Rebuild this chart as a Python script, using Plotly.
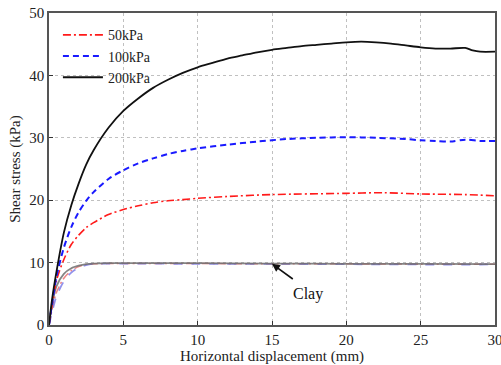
import plotly.graph_objects as go

# Displacement (mm) and shear stress (kPa) for the three normal stresses
x_200 = [0, 0.2, 0.5, 1, 1.5, 2, 2.5, 3, 4, 5, 6, 7, 8, 9, 10, 11, 12, 13, 14, 15, 16, 17, 18, 19, 20, 21, 22, 23, 24, 25, 26, 27, 28, 28.5, 29, 30]
y_200 = [0, 4.0, 8.5, 14.8, 19.2, 22.7, 25.7, 28.0, 31.6, 34.3, 36.3, 38.0, 39.3, 40.4, 41.3, 42.0, 42.7, 43.2, 43.7, 44.1, 44.4, 44.7, 44.9, 45.1, 45.3, 45.4, 45.3, 45.1, 44.8, 44.5, 44.3, 44.3, 44.4, 44.0, 43.8, 43.8]

x_100 = [0, 0.5, 1, 1.5, 2, 2.5, 3, 4, 5, 6, 7, 8, 9, 10, 12, 14, 16, 18, 20, 22, 24, 25, 26, 27, 28, 29, 30]
y_100 = [0, 7.7, 12.4, 15.7, 18.1, 19.9, 21.3, 23.4, 24.8, 25.9, 26.7, 27.4, 27.9, 28.3, 28.9, 29.4, 29.8, 30.0, 30.1, 30.0, 29.8, 29.6, 29.5, 29.4, 29.7, 29.5, 29.5]

x_50 = [0, 0.5, 1, 1.5, 2, 2.5, 3, 4, 5, 6, 7, 8, 9, 10, 12, 15, 20, 22.5, 25, 28, 30]
y_50 = [0, 7.1, 10.5, 12.9, 14.4, 15.6, 16.4, 17.7, 18.5, 19.1, 19.6, 19.9, 20.1, 20.3, 20.6, 20.9, 21.1, 21.2, 21.0, 20.9, 20.7]

# Clay reference curves
x_clay = [0, 0.25, 0.5, 1, 1.5, 2, 2.5, 3, 4, 5, 10, 15, 20, 25, 30]
y_clay_200 = [0, 3.8, 6.2, 8.2, 9.1, 9.5, 9.75, 9.85, 9.9, 9.9, 9.9, 9.85, 9.8, 9.8, 9.75]
y_clay_100 = [0, 2.5, 4.6, 7.0, 8.4, 9.2, 9.6, 9.8, 9.85, 9.85, 9.8, 9.8, 9.75, 9.7, 9.7]
y_clay_50 = [0, 3.0, 5.2, 7.5, 8.7, 9.35, 9.7, 9.8, 9.85, 9.85, 9.85, 9.8, 9.8, 9.75, 9.75]

labels = ["50kPa", "100kPa", "200kPa"]
x_ticks = [0, 5, 10, 15, 20, 25, 30]
y_ticks = [0, 10, 20, 30, 40, 50]

FONT = "Liberation Serif"
DASHDOT = "8px,3px,2px,3px"
SMOOTH = dict(shape="spline", smoothing=0.8)

fig = go.Figure()

# Clay curves (no legend entries)
fig.add_trace(go.Scatter(x=x_clay, y=y_clay_50, mode="lines", showlegend=False,
                         line=dict(color="rgba(230,80,80,0.7)", width=1.5, dash=DASHDOT, **SMOOTH)))
fig.add_trace(go.Scatter(x=x_clay, y=y_clay_100, mode="lines", showlegend=False,
                         line=dict(color="rgba(110,110,230,0.75)", width=1.8, dash="dash", **SMOOTH)))
fig.add_trace(go.Scatter(x=x_clay, y=y_clay_200, mode="lines", showlegend=False,
                         line=dict(color="rgba(110,110,110,0.85)", width=1.8, **SMOOTH)))

fig.add_trace(go.Scatter(x=x_50, y=y_50, mode="lines", name=labels[0],
                         line=dict(color="#ff1a1a", width=1.6, dash=DASHDOT, **SMOOTH)))
fig.add_trace(go.Scatter(x=x_100, y=y_100, mode="lines", name=labels[1],
                         line=dict(color="#1a1aff", width=2, dash="6px,4px", **SMOOTH)))
fig.add_trace(go.Scatter(x=x_200, y=y_200, mode="lines", name=labels[2],
                         line=dict(color="#111111", width=1.8, **SMOOTH)))

fig.add_annotation(x=15.0, y=9.8, ax=16.5, ay=7.2, axref="x", ayref="y",
                   xref="x", yref="y", showarrow=True, arrowhead=2, arrowsize=1,
                   arrowwidth=1.6, arrowcolor="#111111", text="")
fig.add_annotation(x=17.4, y=5.0, xref="x", yref="y", text="Clay", showarrow=False,
                   font=dict(family=FONT, size=16, color="#111111"))

axis_common = dict(showline=True, linecolor="#555555", linewidth=1.5, mirror=True,
                   ticks="inside", ticklen=4, tickcolor="#333333",
                   showgrid=True, gridcolor="#c0c0c0", griddash="dot", gridwidth=1,
                   zeroline=False, automargin=False, ticklabeloverflow="allow",
                   tickfont=dict(family=FONT, size=15, color="#222222"))

fig.update_xaxes(range=[0, 30], tickvals=x_ticks,
                 title=dict(text="Horizontal displacement (mm)", standoff=2,
                            font=dict(family=FONT, size=15, color="#222222")),
                 **axis_common)
fig.update_yaxes(range=[0, 50], tickvals=y_ticks,
                 title=dict(text="Shear stress (kPa)", standoff=5,
                            font=dict(family=FONT, size=15, color="#222222")),
                 **axis_common)

fig.update_layout(
    width=501, height=365,
    margin=dict(l=49, r=6, t=13, b=40),
    plot_bgcolor="white", paper_bgcolor="white",
    legend=dict(x=0.02, y=0.98, xanchor="left", yanchor="top",
                bgcolor="rgba(255,255,255,0)", font=dict(family=FONT, size=14, color="#222222"),
                tracegroupgap=0, itemwidth=40),
)

fig.write_html("out.html")
